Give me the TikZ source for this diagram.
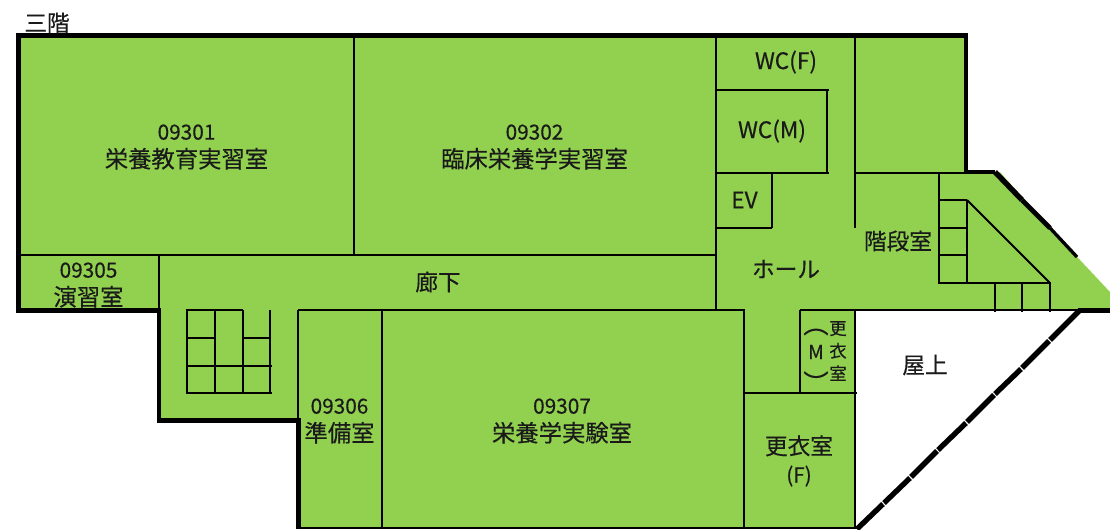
\documentclass[tikz,border=0pt]{standalone}
\usepackage{fontspec}
\setmainfont[RawFeature={embolden=0.35}]{Noto Sans CJK JP}
\definecolor{roomgreen}{HTML}{92D050}
\definecolor{inktext}{HTML}{1A1A1A}
\newcommand{\lbl}{\fontsize{17.5pt}{21pt}\selectfont}
\newcommand{\lblnum}{\fontsize{15.6pt}{21pt}\selectfont}
\newcommand{\lblsm}{\fontsize{13pt}{17pt}\selectfont}
\newcommand{\lblbig}{\fontsize{17pt}{19pt}\selectfont}
\tikzset{
  wall/.style={draw=black,line width=3.5pt,line cap=butt,line join=miter},
  partition/.style={draw=black,line width=1.5pt,line cap=butt},
  roomlabel/.style={text=inktext,align=center,inner sep=0pt,font=\lbl},
  smalllabel/.style={text=inktext,align=center,inner sep=0pt,font=\lblsm},
  roofedge/.style={draw=black,line width=4pt,line cap=butt},
}
\begin{document}
\begin{tikzpicture}[x=0.75pt,y=-0.75pt]
\useasboundingbox (0,0) rectangle (1110,529);
\clip (0,0) rectangle (1110,529);
% floor
\fill[roomgreen] (18.5,35.5) -- (966,35.5) -- (966,172) -- (1000,172) -- (1022,197) -- (1050,228) -- (1110,292) -- (1110,310) -- (855,310) -- (855,528) -- (298.5,528) -- (298.5,420.5) -- (159,420.5) -- (159,310.5) -- (18.5,310.5) -- cycle;
% partitions
\draw[partition] (353.5,36) -- (353.5,255);
\draw[partition] (19,255) -- (716,255);
\draw[partition] (158.5,255) -- (158.5,310);
\draw[partition] (297.5,310) -- (744.5,310);
\draw[partition] (297.5,310) -- (297.5,420);
\draw[partition] (381.5,310) -- (381.5,528);
\draw[partition] (298,528) -- (857,528);
% lower stairs
\draw[partition] (186,310) -- (243,310);
\draw[partition] (186.5,310) -- (186.5,393);
\draw[partition] (214.5,310) -- (214.5,393);
\draw[partition] (242.5,310) -- (242.5,393);
\draw[partition] (269.5,310) -- (269.5,393);
\draw[partition] (186.5,338) -- (214.5,338);
\draw[partition] (242.5,338) -- (269.5,338);
\draw[partition] (186,366) -- (271.5,366);
\draw[partition] (186,393) -- (271.5,393);
% toilets, EV
\draw[partition] (716,36) -- (716,311);
\draw[partition] (716,90) -- (828.5,90);
\draw[partition] (827,90) -- (827,173);
\draw[partition] (716,173) -- (828.5,173);
\draw[partition] (771.5,173) -- (771.5,228);
\draw[partition] (716,228) -- (772,228);
\draw[partition] (855,36) -- (855,228);
\draw[partition] (855,173) -- (966,173);
% upper stairs
\draw[partition] (939,173) -- (939,283);
\draw[partition] (939,200) -- (967,200);
\draw[partition] (967,200) -- (967,283);
\draw[partition] (939,228) -- (967,228);
\draw[partition] (939,255) -- (967,255);
\draw[partition] (938,283) -- (1051,283);
\draw[partition] (967,200) -- (1050,283);
\draw[partition] (995,283) -- (995,312);
\draw[partition] (1022,283) -- (1022,312);
\draw[partition] (1050,283) -- (1050,312);
\draw[partition] (800,310) -- (1080,310);
% changing rooms
\draw[partition] (744,310) -- (744,528);
\draw[partition] (799.5,310) -- (799.5,393);
\draw[partition] (744,393) -- (857,393);
\draw[partition] (855,310) -- (855,528);
% outer walls
\draw[wall] (298.5,529) -- (298.5,420.5) -- (159,420.5) -- (159,310.5) -- (18.5,310.5) -- (18.5,35.5) -- (966,35.5) -- (966,172) -- (995,172);
\draw[roofedge] (995,172) -- (1022,200);
\draw[roofedge,line width=3.5pt] (1022,200) -- (1050,228);
\draw[roofedge,line width=2.5pt] (1050,228) -- (1077,257);
\draw[wall] (1078,310.5) -- (1110,310.5);
\foreach \a/\b/\c/\d in {1079/311/1050/340,1049/341/1022/368,1021/369/995/394,994/395/967/422,966/423/938/450,937/451/911/477,910/478/884/503,883/504/857/529}
  \draw[roofedge] (\a,\b) -- (\c,\d);
% labels
\node[roomlabel] (floor) at (47,23) {\lblbig 三階};
\node[roomlabel] (r09301) at (186.5,147) {{\lblnum 09301}\\栄養教育実習室};
\node[roomlabel] (r09302) at (534.5,147) {{\lblnum 09302}\\臨床栄養学実習室};
\node[roomlabel] (r09305) at (88.5,285) {{\lblnum 09305}\\演習室};
\node[roomlabel] (corridor) at (438,282) {\lblbig 廊下};
\node[roomlabel] (r09306) at (339.5,421) {{\lblnum 09306}\\準備室};
\node[roomlabel] (r09307) at (562,421) {{\lblnum 09307}\\栄養学実験室};
\node[roomlabel,font=\lblbig] (wcf) at (786,62) {WC(F)};
\node[roomlabel,font=\lblbig] (wcm) at (772,131) {WC(M)};
\node[roomlabel,font=\lblbig] (ev) at (744.5,200) {EV};
\node[roomlabel] (hall) at (786,269) {\lblbig ホール};
\node[roomlabel] (stairs) at (898,241) {\lblbig 階段室};
\node[smalllabel] (mchar) at (838,351) {更\\衣\\室};
\node[smalllabel,font=\fontsize{19pt}{19pt}\selectfont] (mopen) at (816,332) {︵};
\node[smalllabel,font=\fontsize{14.5pt}{17pt}\selectfont] (mm) at (816,352) {M};
\node[smalllabel,font=\fontsize{19pt}{19pt}\selectfont] (mclose) at (816,382) {︶};
\node[roomlabel] (fchange) at (799,461) {{\lblbig 更衣室}\\{\fontsize{15.5pt}{17pt}\selectfont (F)}};
\node[roomlabel] (roof) at (925,365) {\lblbig 屋上};
\end{tikzpicture}
\end{document}
